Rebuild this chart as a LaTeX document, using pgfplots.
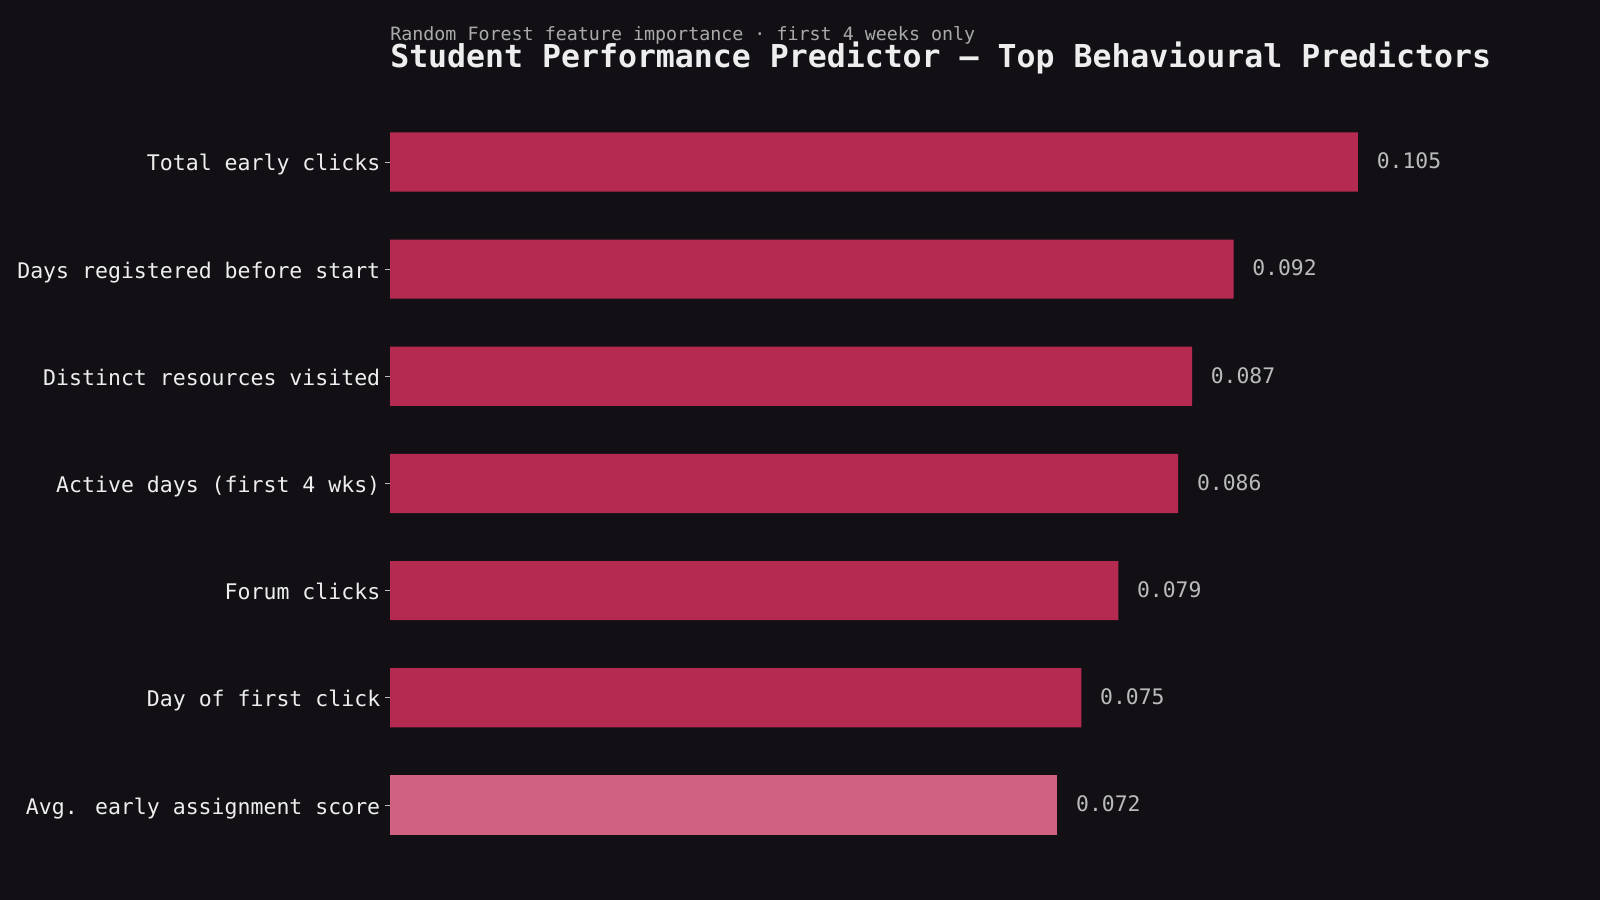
\documentclass[border=0pt]{standalone}
\usepackage{pgfplots}
\pgfplotsset{compat=1.18}
\usepackage{fontspec}
\setmainfont{DejaVu Sans Mono}
\definecolor{bg}{HTML}{121014}
\definecolor{barc}{HTML}{B52A50}
\definecolor{barl}{HTML}{D16181}
\definecolor{txt}{HTML}{EEEEEE}
\definecolor{val}{HTML}{BBBBBB}
\definecolor{sub}{HTML}{AAAAAA}
\begin{document}
\begin{tikzpicture}
\fill[bg] (0,0) rectangle (1152pt,648pt);
\path[use as bounding box] (0,0) rectangle (1152pt,648pt);
\begin{axis}[
    at={(280.8pt,14.4pt)}, anchor=south west,
    scale only axis,
    width=796.5pt, height=571pt,
    xmin=0, xmax=0.12,
    ymin=-0.7, ymax=6.7,
    xbar, bar width=42.6pt, bar shift=0pt,
    axis line style={draw=none},
    xtick=\empty,
    ytick={0,...,6},
    ytick pos=left,
    yticklabels={Avg. early assignment score,Day of first click,Forum clicks,Active days (first 4 wks),Distinct resources visited,Days registered before start,Total early clicks},
    yticklabel style={font=\fontsize{15.5}{18}\selectfont, text=txt, anchor=base east, yshift=-6.5pt},
    y tick style={draw=val, line width=0.6pt},
    tick align=outside,
    major tick length=3.5pt,
    point meta=explicit symbolic,
    nodes near coords,
    nodes near coords style={font=\fontsize{15.4}{18}\selectfont, text=val, anchor=west, xshift=10pt, yshift=0.7pt},
]
\addplot[fill=barc, draw=none] table[x=v, y=i, meta=lab] {
i v lab
1 0.075 0.075
2 0.079 0.079
3 0.0855 0.086
4 0.087 0.087
5 0.0915 0.092
6 0.105 0.105
};
\addplot[fill=barl, draw=none] table[x=v, y=i, meta=lab] {
i v lab
0 0.0724 0.072
};
\end{axis}
\node[anchor=west, inner sep=0pt, text=sub, font=\fontsize{13.2}{15}\selectfont] at (280.8pt,622.2pt) {Random Forest feature importance · first 4 weeks only};
\node[anchor=west, inner sep=0pt, text=txt, font=\fontsize{22.7}{26}\selectfont\bfseries] at (280.8pt,606.1pt) {Student Performance Predictor — Top Behavioural Predictors};
\end{tikzpicture}
\end{document}
